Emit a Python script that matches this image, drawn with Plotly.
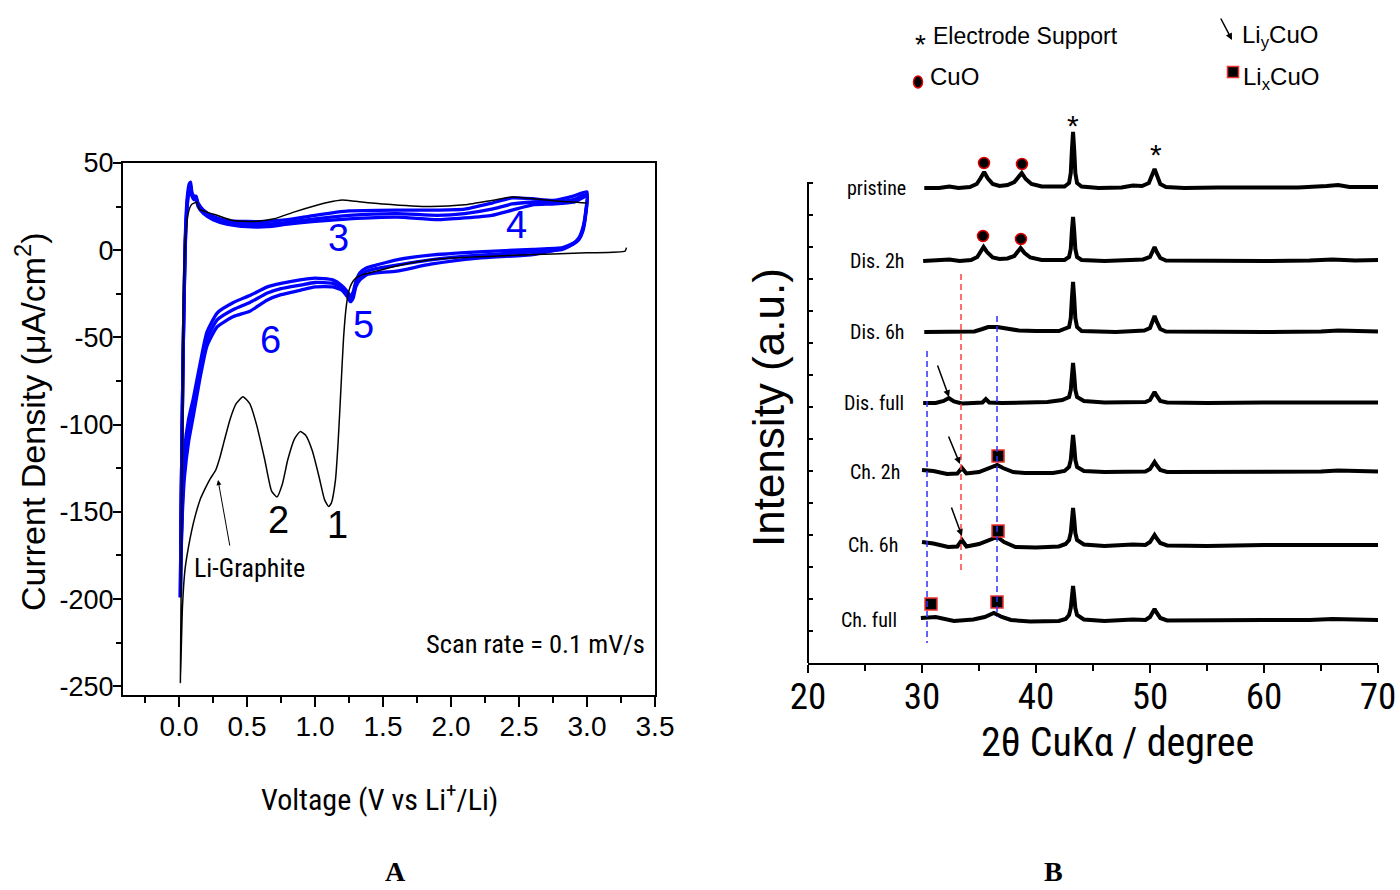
import plotly.graph_objects as go

REG = "Liberation Sans, Arial, sans-serif"
NAR = "Roboto Condensed, Liberation Sans Narrow, Arial Narrow, Liberation Sans, sans-serif"
SERIF = "Liberation Serif, Times New Roman, serif"
BLUE = "#0000FF"

# ---------------- Panel A : cyclic voltammetry ----------------
cv1_voltage = [3.29, 3.28, 3.0, 2.5, 2.0, 1.8, 1.6, 1.45, 1.35, 1.3, 1.27, 1.25, 1.23, 1.21, 1.19,
               1.17, 1.15, 1.12, 1.10, 1.07, 1.03, 0.98, 0.93, 0.89, 0.85, 0.80, 0.76, 0.72, 0.68, 0.63,
               0.57, 0.52, 0.47, 0.42, 0.375, 0.33, 0.30, 0.27, 0.23, 0.19, 0.155, 0.12, 0.095, 0.07, 0.044,
               0.025, 0.01,
               0.015, 0.025, 0.035, 0.05, 0.07, 0.09, 0.11, 0.13, 0.15, 0.2, 0.28, 0.4, 0.55, 0.7, 0.85,
               1.0, 1.1, 1.2, 1.3, 1.5, 1.85, 2.1, 2.3, 2.45, 2.6, 2.8, 3.0]
cv1_current = [1.5, -0.5, -1.5, -2.8, -4.5, -6, -9, -12, -14, -16, -19, -23, -32, -50, -80,
               -110, -132, -145, -147, -143, -130, -115, -106, -104, -108, -120, -134, -141.5, -138, -120,
               -100, -88, -84, -88, -97, -110, -119, -126, -131, -137, -143, -152, -160, -170, -183,
               -205, -248,
               -200, -100, -20, 10, 22, 26, 27, 27.5, 23.5, 22, 20, 17, 16.5, 18, 22,
               25.5, 27.5, 28.8, 28, 26.5, 25, 26, 28.5, 30.5, 29.5, 28, 27]

cvn_voltage = [3.0, 2.99, 2.97, 2.94, 2.9, 2.82, 2.6, 2.2, 1.85, 1.6, 1.45, 1.38, 1.33, 1.30, 1.28,
               1.26, 1.24, 1.2, 1.13, 1.0, 0.89, 0.75, 0.65, 0.52, 0.40, 0.28, 0.205, 0.155, 0.105, 0.07,
               0.04, 0.025, 0.015, 0.01,
               0.015, 0.03, 0.045, 0.06, 0.075, 0.085, 0.095, 0.11, 0.125, 0.14, 0.18, 0.25, 0.35, 0.5,
               0.65, 0.8, 1.0, 1.25, 1.6, 1.9, 2.1, 2.3, 2.45, 2.6, 2.75, 2.9, 3.0]
cvn_current_a = [33.5, 22, 13, 7, 4, 1.5, 0.5, -1, -2.8, -5.5, -8.5, -10, -13, -18, -24,
                 -26.5, -24, -20.5, -17, -16, -17, -19, -21, -26, -30, -36, -47, -65, -85, -97,
                 -115, -140, -170, -198,
                 -150, -60, 5, 30, 38, 39, 33, 31, 31, 27, 23, 19.5, 17, 16.5,
                 16.5, 17.5, 20, 22.5, 23, 23, 23.5, 27, 30, 29.5, 28.5, 31, 33.5]
cvn_current_b = [31, 20, 11, 6, 3.5, 1, -2.5, -4.5, -8, -12, -13, -14, -17, -21, -27.5,
                 -29.5, -27, -23, -21, -21, -23, -25.5, -28.5, -35, -38, -44, -55, -73, -95, -110,
                 -130, -150, -175, -198,
                 -150, -60, 0, 25, 34, 35, 31, 29, 29.5, 25, 21, 17.5, 15, 13.5,
                 13.5, 15, 16.5, 18, 19, 17.5, 18.5, 20, 23, 26, 26.5, 27.5, 31]
cvn_current_c = [32, 21, 12, 6.5, 3.8, 0.5, -1, -2.8, -5.5, -8.5, -10.5, -12, -15, -19.5, -26,
                 -28, -25.5, -21.5, -19, -18.5, -20, -22, -24.5, -30, -34, -40, -51, -69, -90, -103,
                 -122, -145, -172, -198,
                 -150, -60, 2, 27, 36, 37, 32, 30, 30, 26, 22, 18.5, 16, 15,
                 15, 16, 18, 20, 21, 20, 21, 23.5, 26.5, 27.5, 27.5, 29, 32]

cv_x_ticks = [0.0, 0.5, 1.0, 1.5, 2.0, 2.5, 3.0, 3.5]
cv_y_ticks = [50, 0, -50, -100, -150, -200, -250]
cv_y_ticklabels = ["50", "0", "-50", "-100", "-150", "-200", "-250"]

cv_peak_labels = ["1", "2", "3", "4", "5", "6"]
cv_peak_v = [1.162, 0.728, 1.17, 2.485, 1.353, 0.669]
cv_peak_i = [-157.6, -154.7, 7.0, 14.4, -42.9, -51.5]
cv_peak_is_first_cycle = [True, True, False, False, False, False]

# ---------------- Panel B : XRD ----------------
xrd_labels = ["pristine", "Dis. 2h", "Dis. 6h", "Dis. full", "Ch. 2h", "Ch. 6h", "Ch. full"]
xrd_offsets = [475, 402, 331, 260, 191, 118, 43]
xrd_label_end = [28.77, 28.68, 28.68, 28.6, 28.25, 28.07, 27.98]

tt_pristine = [30.2, 31.5, 32.4, 33.2, 34.2, 34.8, 35.15, 35.45, 35.75, 36.2, 36.8, 37.5, 38.1, 38.45, 38.75,
               39.1, 39.6, 40.5, 41.5, 42.5, 42.9, 43.05, 43.15, 43.25, 43.35, 43.45, 43.6, 44.0, 45.5, 47.5,
               48.5, 49.3, 49.9, 50.2, 50.4, 50.6, 50.9, 51.4, 53, 56, 60, 63, 65.5, 66.5, 67.5, 69, 70]
int_pristine = [0, 0, 1.5, 0, 1, 4, 10, 16, 10, 4, 2, 3, 6, 11, 15,
                9, 4, 1.5, 1, 1.5, 5, 15, 38, 56, 38, 15, 5, 1.5, 0, 0.5,
                2.5, 2, 5, 13, 19, 13, 4, 1, 0, 0.5, 0, 0.5, 2, 3, 1, 0.5, 1]

tt_dis2 = [30.1, 31.5, 32.4, 33.3, 34.3, 34.85, 35.15, 35.4, 35.7, 36.2, 36.8, 37.5, 38.1, 38.4, 38.65,
           39.0, 39.5, 40.5, 41.5, 42.5, 42.9, 43.05, 43.15, 43.25, 43.35, 43.45, 43.6, 44.0, 46, 48.5,
           49.4, 50.0, 50.2, 50.4, 50.6, 50.9, 51.4, 55, 60, 64, 66, 68, 70]
int_dis2 = [0, 0.5, 1.5, 0, 1, 4, 9, 14, 9, 3.5, 2, 2.5, 5, 9, 13,
            8, 3.5, 1, 0.5, 1, 4, 12, 30, 44, 30, 12, 4, 1, 0, 1.5,
            1.5, 4, 9, 14, 9, 3, 0.5, 0, 0, 0.5, 1.5, 0.5, 1]

tt_dis6 = [30.2, 32, 33.5, 34.6, 35.3, 35.8, 36.6, 37.5, 38.5, 40, 42, 42.9, 43.05, 43.15, 43.25,
           43.35, 43.45, 43.6, 44.0, 47, 48.5, 49.5, 50.0, 50.2, 50.4, 50.6, 50.9, 51.4, 55, 60,
           65, 66.5, 70]
int_dis6 = [0, 0.5, 0, 0.5, 3, 5, 5, 3, 1.5, 1, 1, 5, 14, 34, 50,
            34, 14, 5, 1, 0, 1.5, 1.5, 4, 10, 16, 10, 3, 0.5, 0, 0,
            0.5, 1.5, 0.5]

tt_disf = [30.1, 31.2, 31.9, 32.35, 32.8, 33.5, 34.5, 35.3, 35.6, 35.9, 37, 39, 41, 42.3, 42.9,
           43.05, 43.15, 43.25, 43.35, 43.45, 43.6, 44.2, 46, 48.5, 49.6, 50.0, 50.2, 50.4, 50.6, 50.9,
           51.5, 55, 60, 65, 66.5, 70]
int_disf = [0, 0, 2, 5, 1.5, -0.5, 0, 0.5, 4, 0.5, 0, 0, 1, 3, 6,
            13, 28, 40, 28, 13, 6, 2, 0.5, 1.5, 1, 3, 7, 11, 7, 2,
            0.5, 0, 0.5, 0.5, 1.5, 0.5]

tt_ch2 = [30.0, 31.0, 32.2, 33.1, 33.5, 33.9, 35.0, 36.0, 36.6, 37.1, 38.0, 39, 41.5, 42.5, 42.9,
          43.05, 43.15, 43.25, 43.35, 43.45, 43.6, 44.2, 46, 48.5, 49.6, 50.0, 50.2, 50.4, 50.6, 50.9,
          51.5, 55, 60, 65, 66.5, 70]
int_ch2 = [2, 1, -2, -1.5, 4, -1.5, 0, 4, 7, 4, 0, -1, -1, 1, 5,
           12, 26, 37, 26, 12, 5, 1, 0, 1, 0.5, 3, 6.5, 10, 6.5, 2,
           0, 0, 0, 0.5, 1.5, 0.5]

tt_ch6 = [30.0, 31.0, 32.3, 33.1, 33.5, 33.9, 35.0, 36.0, 36.6, 37.2, 38.2, 40, 42, 42.6, 42.9,
          43.05, 43.15, 43.25, 43.35, 43.45, 43.6, 44.2, 46, 48.5, 49.6, 50.0, 50.2, 50.4, 50.6, 50.9,
          51.5, 55, 60, 65, 66.5, 70]
int_ch6 = [3, 1.5, -2, -1.5, 5, -1.5, 1, 5, 8, 3, -2, -2.5, -1.5, 1, 5,
           12, 26, 37, 26, 12, 5, 0.5, -1, 0.5, 0, 3, 6.5, 10, 6.5, 2,
           -0.5, -1, 0, 0, 1, 0]

tt_chf = [29.9, 31.2, 32.8, 34.5, 35.5, 36.3, 37.0, 37.8, 39.5, 42, 42.6, 42.9, 43.05, 43.15, 43.25,
          43.35, 43.45, 43.6, 44.2, 46, 48.5, 49.6, 50.0, 50.2, 50.4, 50.6, 50.9, 51.5, 55, 60,
          64, 66, 70]
int_chf = [2, 3, -1, 0.5, 3, 7, 3, 0, -1.5, -1, 1, 5, 12, 24, 34,
           24, 12, 5, 0.5, -1, 0.5, 0, 3, 7, 11, 7, 2, -0.5, 0, 0,
           0, 1, 0]

xrd_two_theta = [tt_pristine, tt_dis2, tt_dis6, tt_disf, tt_ch2, tt_ch6, tt_chf]
xrd_intensity = [int_pristine, int_dis2, int_dis6, int_disf, int_ch2, int_ch6, int_chf]

cuo_tt = [35.44, 38.77, 35.35, 38.68]
cuo_y = [500, 499, 427, 424]
lixcuo_tt = [36.67, 36.67, 30.79, 36.58]
lixcuo_y = [207, 132, 59, 61]
support_tt = [43.25, 50.5]
support_y = [540, 511]
liycuo_tt = [32.37, 33.33, 33.5]
liycuo_y = [266, 199, 127]
guide_tt = [33.42, 30.44, 36.58]
guide_y0 = [389, 312, 347]
guide_y1 = [90, 20, 46]
guide_color = ["#FF4040", "#3030FF", "#3030FF"]

xrd_x_ticks = [20, 30, 40, 50, 60, 70]
xrd_y_ticks = [0, 32, 64, 96, 128, 160, 192, 224, 256, 288, 320, 352, 384, 416, 448, 480]

# ---------------- figure ----------------
fig = go.Figure()

for cur in (cvn_current_a, cvn_current_c, cvn_current_b):
    fig.add_trace(go.Scatter(x=cvn_voltage, y=cur, mode="lines", xaxis="x", yaxis="y",
                             line=dict(color=BLUE, width=3.3, shape="spline", smoothing=0.5),
                             hoverinfo="skip"))
fig.add_trace(go.Scatter(x=cv1_voltage, y=cv1_current, mode="lines", xaxis="x", yaxis="y",
                         line=dict(color="black", width=1.5, shape="spline", smoothing=0.5),
                         hoverinfo="skip"))

for tt, inten, off in zip(xrd_two_theta, xrd_intensity, xrd_offsets):
    fig.add_trace(go.Scatter(x=tt, y=[off + v for v in inten], mode="lines", xaxis="x2", yaxis="y2",
                             line=dict(color="black", width=4), hoverinfo="skip"))

fig.add_trace(go.Scatter(x=cuo_tt, y=cuo_y, mode="markers", xaxis="x2", yaxis="y2",
                         marker=dict(symbol="circle", size=11, color="black",
                                     line=dict(color="#E00000", width=1.5)), cliponaxis=False))
fig.add_trace(go.Scatter(x=lixcuo_tt, y=lixcuo_y, mode="markers", xaxis="x2", yaxis="y2",
                         marker=dict(symbol="square", size=12, color="black",
                                     line=dict(color="#F03030", width=1.5)), cliponaxis=False))

shapes = []
for gx, g0, g1, gc in zip(guide_tt, guide_y0, guide_y1, guide_color):
    shapes.append(dict(type="line", xref="x2", yref="y2", x0=gx, x1=gx, y0=g0, y1=g1,
                       line=dict(color=gc, width=1.5, dash="6px,4px")))
shapes.append(dict(type="line", xref="x2 domain", yref="y2", x0=0, x1=0, y0=0, y1=481,
                   line=dict(color="black", width=2)))
# legend symbols
shapes.append(dict(type="circle", xref="paper", yref="paper",
                   x0=913.5 / 1400, x1=922.5 / 1400, y0=(890 - 88) / 890, y1=(890 - 76) / 890,
                   fillcolor="black", line=dict(color="#E00000", width=1.5)))
shapes.append(dict(type="rect", xref="paper", yref="paper",
                   x0=1227.5 / 1400, x1=1238.5 / 1400, y0=(890 - 77.5) / 890, y1=(890 - 66.5) / 890,
                   fillcolor="black", line=dict(color="#F03030", width=1.5)))


def paper_text(px, py, text, family, size, xanchor="center", angle=0, yanchor="middle"):
    return dict(x=px / 1400, y=(890 - py) / 890, xref="paper", yref="paper", text=text,
                showarrow=False, xanchor=xanchor, yanchor=yanchor, textangle=angle,
                font=dict(family=family, size=size, color="black"))


ann = []
for lab, v, i, first in zip(cv_peak_labels, cv_peak_v, cv_peak_i, cv_peak_is_first_cycle):
    ann.append(dict(x=v, y=i, xref="x", yref="y", text=lab, showarrow=False,
                    xanchor="center", yanchor="middle",
                    font=dict(family=REG, size=38, color="black" if first else BLUE)))
ann.append(dict(x=0.515, y=-182, xref="x", yref="y", text="Li-Graphite", showarrow=False,
                xanchor="center", yanchor="middle", font=dict(family=NAR, size=26, color="black")))
ann.append(dict(x=0.287, y=-131.8, xref="x", yref="y", text="", showarrow=True,
                ax=12, ay=67, arrowhead=2, arrowsize=1, arrowwidth=1, arrowcolor="black"))
ann.append(paper_text(647, 643, "Scan rate = 0.1 mV/s", NAR, 26.5, xanchor="right"))
ann.append(paper_text(30, 422, "Current Density (μA/cm<sup>2</sup>)", REG, 34, angle=-90))
ann.append(paper_text(380, 797, "Voltage (V vs Li<sup>+</sup>/Li)", NAR, 30))
ann.append(paper_text(395, 889, "<b>A</b>", SERIF, 28, yanchor="bottom"))
ann.append(paper_text(1053, 889, "<b>B</b>", SERIF, 28, yanchor="bottom"))

# XRD texts
for lab, xe, off in zip(xrd_labels, xrd_label_end, xrd_offsets):
    ann.append(dict(x=xe, y=off, xref="x2", yref="y2", xanchor="right", yanchor="middle", text=lab,
                    showarrow=False, font=dict(family=NAR, size=20, color="black")))
for sx, sy in zip(support_tt, support_y):
    ann.append(dict(x=sx, y=sy, xref="x2", yref="y2", text="*", showarrow=False, yshift=-2,
                    xanchor="center", yanchor="middle", font=dict(family=REG, size=30, color="black")))
for ax_, ay_, (tx, ty) in zip(liycuo_tt, liycuo_y, [(-12, -33), (-12, -29), (-11, -30)]):
    ann.append(dict(x=ax_, y=ay_, xref="x2", yref="y2", text="", showarrow=True, ax=tx, ay=ty,
                    arrowhead=2, arrowsize=0.9, arrowwidth=1.5, arrowcolor="black"))
ann.append(paper_text(768, 408, "Intensity (a.u.)", REG, 44, angle=-90))
ann.append(paper_text(1117, 742, "2θ CuKα / degree", NAR, 40))
# legend
star_leg = paper_text(921, 37, "*", REG, 28)
star_leg["yshift"] = -8
ann.append(star_leg)
ann.append(paper_text(931, 36, "Electrode Support", REG, 23, xanchor="left"))
ann.append(paper_text(928, 76, "CuO", REG, 24, xanchor="left"))
ann.append(paper_text(1240, 36, "Li<sub>y</sub>CuO", REG, 24, xanchor="left"))
ann.append(paper_text(1241, 78, "Li<sub>x</sub>CuO", REG, 24, xanchor="left"))
ann.append(dict(x=1232 / 1400, y=(890 - 40) / 890, xref="paper", yref="paper", text="", showarrow=True,
                ax=-12, ay=-23, arrowhead=2, arrowsize=0.9, arrowwidth=1.5, arrowcolor="black"))

fig.update_layout(
    width=1400, height=890, margin=dict(l=0, r=0, t=0, b=0, pad=0, autoexpand=False), autosize=False,
    paper_bgcolor="white", plot_bgcolor="white", showlegend=False,
    xaxis=dict(domain=[123 / 1400, 655 / 1400], range=[-0.412, 3.5], anchor="y", automargin=False,
               showline=True, linecolor="black", linewidth=2, mirror=True,
               ticks="outside", ticklen=10, tickwidth=1.5, tickcolor="black", ticklabelstandoff=-5,
               tickmode="array", tickvals=cv_x_ticks, ticktext=[f"{v:.1f}" for v in cv_x_ticks],
               minor=dict(tickmode="linear", tick0=0, dtick=0.25, ticks="outside", ticklen=6,
                          tickwidth=1.5, tickcolor="black", showgrid=False),
               showgrid=False, zeroline=False, tickfont=dict(family=REG, size=28, color="black")),
    yaxis=dict(domain=[(890 - 695) / 890, (890 - 163) / 890], range=[-255, 50], anchor="x", automargin=False,
               showline=True, linecolor="black", linewidth=2, mirror=True,
               ticks="outside", ticklen=8, tickwidth=1.5, tickcolor="black", ticklabelstandoff=-6,
               tickmode="array", tickvals=cv_y_ticks, ticktext=cv_y_ticklabels,
               minor=dict(tickmode="linear", tick0=0, dtick=25, ticks="outside", ticklen=5,
                          tickwidth=1.5, tickcolor="black", showgrid=False),
               showgrid=False, zeroline=False, tickfont=dict(family=REG, size=27, color="black")),
    xaxis2=dict(domain=[808 / 1400, 1378 / 1400], range=[20, 70], anchor="y2", automargin=False,
                showline=True, linecolor="black", linewidth=2,
                ticks="outside", ticklen=8, tickwidth=1.5, tickcolor="black", ticklabelstandoff=-8,
                tickmode="array", tickvals=xrd_x_ticks,
                minor=dict(tickmode="linear", tick0=0, dtick=5, ticks="outside", ticklen=6,
                           tickwidth=1.5, tickcolor="black", showgrid=False),
                showgrid=False, zeroline=False, tickfont=dict(family=NAR, size=37, color="black")),
    yaxis2=dict(domain=[(890 - 663) / 890, (890 - 100) / 890], range=[0, 563], anchor="x2", automargin=False,
                showline=False, ticks="inside", ticklen=5, tickwidth=1.5, tickcolor="black",
                tickmode="array", tickvals=xrd_y_ticks, showticklabels=False,
                showgrid=False, zeroline=False),
    shapes=shapes, annotations=ann,
)

fig.write_html("out.html", config={"displayModeBar": False},
               post_script="document.body.style.margin='0px';")
